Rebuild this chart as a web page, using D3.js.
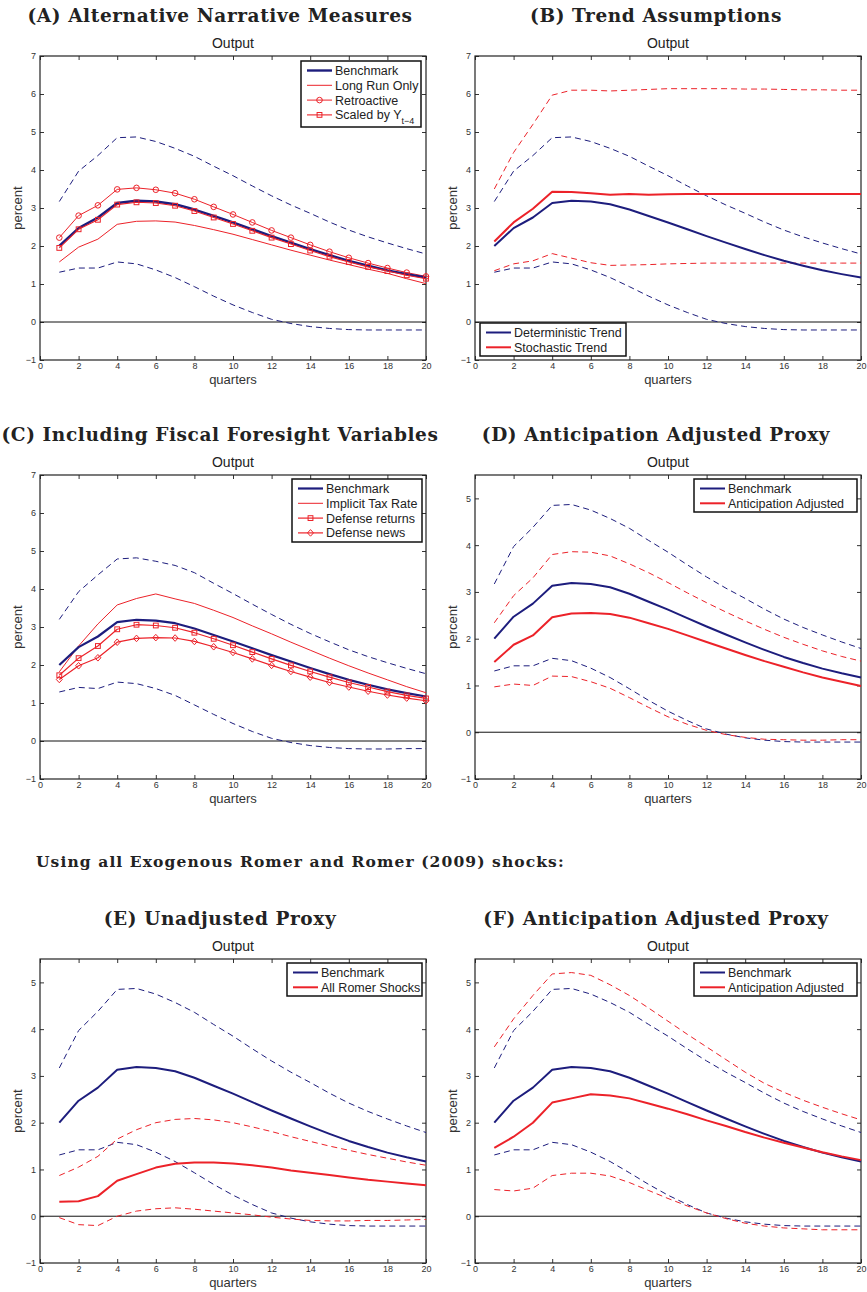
<!DOCTYPE html>
<html>
<head>
<meta charset="utf-8">
<script src="https://cdn.jsdelivr.net/npm/d3@7"></script>
<style>
  body { margin: 0; background: #fff; }
  text { font-family: "Liberation Sans", Arial, sans-serif; }
  .ptitle, .section { font-family: "DejaVu Serif", serif; font-weight: bold; fill: #222; }
</style>
</head>
<body>
<svg id="fig" width="867" height="1292"></svg>
<script>
// horizon (quarters)
const quarters = [1,2,3,4,5,6,7,8,9,10,11,12,13,14,15,16,17,18,19,20];

// benchmark response and its bands (same in every panel)
const benchmark = [2.0,2.47,2.75,3.13,3.19,3.17,3.1,2.96,2.79,2.62,2.44,2.26,2.09,1.92,1.76,1.61,1.48,1.36,1.26,1.17];
const benchUpper = [3.17,3.97,4.38,4.85,4.87,4.75,4.57,4.36,4.1,3.85,3.58,3.32,3.08,2.86,2.63,2.42,2.24,2.08,1.93,1.79];
const benchLower = [1.31,1.42,1.42,1.58,1.53,1.37,1.17,0.93,0.68,0.45,0.25,0.07,-0.04,-0.12,-0.17,-0.2,-0.21,-0.21,-0.21,-0.21];

// (A) alternative narrative measures
const longRunOnly = [1.58,1.97,2.18,2.57,2.65,2.66,2.63,2.54,2.43,2.31,2.17,2.03,1.89,1.76,1.63,1.51,1.39,1.28,1.14,1.01];
const retroactive = [2.22,2.8,3.07,3.49,3.53,3.48,3.39,3.23,3.03,2.83,2.62,2.41,2.22,2.03,1.85,1.69,1.55,1.42,1.3,1.2];
const scaledByY = [1.95,2.44,2.69,3.09,3.15,3.13,3.06,2.92,2.75,2.58,2.4,2.22,2.05,1.88,1.72,1.58,1.45,1.34,1.23,1.14];

// (B) trend assumptions
const stochTrend = [2.12,2.62,2.98,3.43,3.42,3.39,3.35,3.37,3.35,3.36,3.37,3.37,3.37,3.37,3.37,3.37,3.37,3.37,3.37,3.37];
const stochUpper = [3.5,4.46,5.2,5.97,6.1,6.1,6.08,6.1,6.12,6.14,6.14,6.14,6.14,6.13,6.13,6.12,6.11,6.11,6.1,6.1];
const stochLower = [1.35,1.53,1.61,1.8,1.68,1.56,1.49,1.5,1.51,1.53,1.54,1.55,1.55,1.55,1.55,1.55,1.55,1.55,1.55,1.55];

// (C) fiscal foresight variables
const benchUpperC = [3.2,3.93,4.37,4.79,4.82,4.73,4.62,4.43,4.15,3.88,3.6,3.33,3.07,2.83,2.61,2.4,2.22,2.06,1.91,1.77];
const benchLowerC = [1.29,1.41,1.38,1.55,1.51,1.38,1.2,0.95,0.7,0.46,0.25,0.07,-0.04,-0.12,-0.17,-0.2,-0.21,-0.21,-0.2,-0.2];
const implicitTax = [1.82,2.5,3.08,3.58,3.75,3.87,3.74,3.62,3.44,3.25,3.03,2.82,2.6,2.39,2.18,1.98,1.79,1.61,1.43,1.27];
const defReturns = [1.73,2.18,2.5,2.94,3.06,3.04,2.98,2.85,2.69,2.52,2.34,2.16,1.99,1.83,1.68,1.54,1.42,1.3,1.2,1.12];
const defNews = [1.62,1.98,2.19,2.6,2.7,2.72,2.71,2.62,2.48,2.33,2.16,1.99,1.83,1.68,1.54,1.42,1.31,1.21,1.13,1.06];

// (D) anticipation adjusted proxy
const anticAdj = [1.5,1.87,2.07,2.46,2.54,2.55,2.53,2.45,2.33,2.21,2.07,1.93,1.79,1.65,1.52,1.4,1.28,1.17,1.08,0.99];
const anticUpper = [2.34,2.92,3.3,3.8,3.86,3.85,3.77,3.6,3.41,3.2,2.98,2.77,2.57,2.38,2.2,2.03,1.88,1.74,1.62,1.52];
const anticLower = [0.97,1.03,1.0,1.2,1.19,1.08,0.94,0.74,0.53,0.33,0.17,0.04,-0.05,-0.11,-0.15,-0.16,-0.17,-0.17,-0.16,-0.16];

// (E) all Romer shocks, unadjusted
const allRomer = [0.31,0.32,0.43,0.76,0.9,1.04,1.12,1.15,1.15,1.13,1.09,1.04,0.98,0.93,0.88,0.83,0.78,0.74,0.7,0.66];
const allRomerUpper = [0.87,1.05,1.28,1.65,1.85,2.0,2.07,2.09,2.06,2.0,1.91,1.81,1.7,1.6,1.5,1.41,1.32,1.24,1.16,1.09];
const allRomerLower = [-0.03,-0.18,-0.2,0.0,0.11,0.16,0.18,0.15,0.11,0.07,0.03,-0.02,-0.06,-0.09,-0.1,-0.1,-0.09,-0.09,-0.08,-0.07];

// (F) all Romer shocks, anticipation adjusted
const allAdj = [1.46,1.7,2.0,2.43,2.52,2.61,2.58,2.52,2.41,2.3,2.18,2.05,1.93,1.8,1.68,1.57,1.47,1.37,1.28,1.2];
const allAdjUpper = [3.62,4.22,4.72,5.18,5.21,5.15,4.95,4.72,4.45,4.17,3.89,3.62,3.35,3.08,2.84,2.65,2.48,2.33,2.19,2.06];
const allAdjLower = [0.57,0.54,0.6,0.87,0.92,0.92,0.86,0.72,0.55,0.38,0.22,0.07,-0.05,-0.15,-0.21,-0.25,-0.27,-0.29,-0.29,-0.29];

const xTicks = [0,2,4,6,8,10,12,14,16,18,20];
const yTicksTall = [-1,0,1,2,3,4,5,6,7];
const yTicksShort = [-1,0,1,2,3,4,5];

const BLUE = "#1d1d7d", RED = "#ec2229";

const svg = d3.select("#fig");

svg.append("text").attr("class", "section")
  .attr("x", 36).attr("y", 867).attr("font-size", 15.5).attr("letter-spacing", 1.1)
  .text("Using all Exogenous Romer and Romer (2009) shocks:");

function drawPanel(p) {
  const x = d3.scaleLinear().domain([0, 20]).range([p.left, p.left + 386]);
  const y = d3.scaleLinear().domain(p.ydom).range([p.top + 304, p.top]);
  const g = svg.append("g");

  g.append("text").attr("class", "ptitle")
    .attr("x", p.tx).attr("y", p.top - 34).attr("text-anchor", "middle")
    .attr("font-size", 18.5).attr("letter-spacing", 0.6).text(p.title);
  g.append("text").attr("x", p.left + 193).attr("y", p.top - 8)
    .attr("text-anchor", "middle").attr("font-size", 14).attr("fill", "#222").text("Output");

  // axes, MATLAB style: ticks inside on all sides
  const fmt = d3.format("d");
  const ax = g.append("g").attr("transform", `translate(0,${p.top + 304})`)
    .call(d3.axisBottom(x).tickValues(xTicks).tickSizeInner(-4).tickSizeOuter(0).tickPadding(3).tickFormat(fmt));
  const axT = g.append("g").attr("transform", `translate(0,${p.top})`)
    .call(d3.axisTop(x).tickValues(xTicks).tickSizeInner(-4).tickSizeOuter(0).tickFormat(""));
  const ay = g.append("g").attr("transform", `translate(${p.left},0)`)
    .call(d3.axisLeft(y).tickValues(p.yticks).tickSizeInner(-4).tickSizeOuter(0).tickPadding(4).tickFormat(fmt));
  const ayR = g.append("g").attr("transform", `translate(${p.left + 386},0)`)
    .call(d3.axisRight(y).tickValues(p.yticks).tickSizeInner(-4).tickSizeOuter(0).tickFormat(""));
  [ax, axT, ay, ayR].forEach(a => {
    a.select(".domain").remove();
    a.selectAll("line").attr("stroke", "#333");
    a.selectAll("text").attr("font-size", 9).attr("fill", "#333")
      .attr("font-family", "Liberation Sans, Arial, sans-serif");
  });
  g.append("rect").attr("x", p.left).attr("y", p.top).attr("width", 386).attr("height", 304)
    .attr("fill", "none").attr("stroke", "#222").attr("stroke-width", 1.2);

  g.append("line").attr("x1", p.left).attr("x2", p.left + 386)
    .attr("y1", y(0)).attr("y2", y(0)).attr("stroke", "#111").attr("stroke-width", 1);

  g.append("text").attr("x", p.left + 193).attr("y", p.top + 328)
    .attr("text-anchor", "middle").attr("font-size", 13).attr("fill", "#333").text("quarters");
  g.append("text").attr("transform", `translate(${p.left - 18},${p.top + 152}) rotate(-90)`)
    .attr("text-anchor", "middle").attr("font-size", 13).attr("fill", "#333").text("percent");

  const line = d3.line().x((d, i) => x(quarters[i])).y(d => y(d));
  p.series.forEach(s => {
    g.append("path").attr("d", line(s.values)).attr("fill", "none")
      .attr("stroke", s.color).attr("stroke-width", s.width)
      .attr("stroke-dasharray", s.dash ? "6,4" : null)
      .attr("stroke-linejoin", "round");
    if (s.marker) {
      s.values.forEach((v, i) => drawMarker(g, s.marker, x(quarters[i]), y(v), s.color));
    }
  });

  // legend
  const L = p.legend;
  g.append("rect").attr("x", L.x).attr("y", L.y).attr("width", L.w).attr("height", L.h)
    .attr("fill", "#fff").attr("stroke", "#111").attr("stroke-width", 1.5);
  L.items.forEach((it, i) => {
    const cy = L.y + 9.5 + i * 14.8;
    g.append("line").attr("x1", L.x + 6).attr("x2", L.x + 31).attr("y1", cy).attr("y2", cy)
      .attr("stroke", it.color).attr("stroke-width", it.width);
    if (it.marker) drawMarker(g, it.marker, L.x + 18.5, cy, it.color);
    const t = g.append("text").attr("x", L.x + 34).attr("y", cy + 4.5)
      .attr("font-size", 12.5).attr("fill", "#222").text(it.label);
    if (it.sub) t.append("tspan").attr("dy", 5).attr("font-size", 9).text(it.sub);
  });
}

function drawMarker(g, type, cx, cy, color) {
  if (type === "circle") {
    g.append("circle").attr("cx", cx).attr("cy", cy).attr("r", 2.8)
      .attr("fill", "none").attr("stroke", color).attr("stroke-width", 1);
  } else if (type === "square") {
    g.append("rect").attr("x", cx - 2.4).attr("y", cy - 2.4).attr("width", 4.8).attr("height", 4.8)
      .attr("fill", "none").attr("stroke", color).attr("stroke-width", 1);
  } else if (type === "diamond") {
    g.append("path").attr("d", `M${cx},${cy - 3.3}L${cx + 3},${cy}L${cx},${cy + 3.3}L${cx - 3},${cy}Z`)
      .attr("fill", "none").attr("stroke", color).attr("stroke-width", 1);
  }
}

const bandsBench = [
  { values: benchUpper, color: BLUE, width: 1, dash: true },
  { values: benchLower, color: BLUE, width: 1, dash: true }
];

drawPanel({
  title: "(A) Alternative Narrative Measures", tx: 220,
  left: 40, top: 56, ydom: [-1, 7], yticks: yTicksTall,
  series: bandsBench.concat([
    { values: longRunOnly, color: RED, width: 1 },
    { values: retroactive, color: RED, width: 1, marker: "circle" },
    { values: benchmark, color: BLUE, width: 2.4 },
    { values: scaledByY, color: RED, width: 1.1, marker: "square" }
  ]),
  legend: { x: 301, y: 61, w: 120, h: 66, items: [
    { label: "Benchmark", color: BLUE, width: 2.4 },
    { label: "Long Run Only", color: RED, width: 1 },
    { label: "Retroactive", color: RED, width: 1, marker: "circle" },
    { label: "Scaled by Y", sub: "t\u22124", color: RED, width: 1.1, marker: "square" }
  ] }
});

drawPanel({
  title: "(B) Trend Assumptions", tx: 656,
  left: 475, top: 56, ydom: [-1, 7], yticks: yTicksTall,
  series: bandsBench.concat([
    { values: stochUpper, color: RED, width: 1, dash: true },
    { values: stochLower, color: RED, width: 1, dash: true },
    { values: benchmark, color: BLUE, width: 2 },
    { values: stochTrend, color: RED, width: 2 }
  ]),
  legend: { x: 480, y: 323, w: 146, h: 33, items: [
    { label: "Deterministic Trend", color: BLUE, width: 2 },
    { label: "Stochastic Trend", color: RED, width: 2 }
  ] }
});

drawPanel({
  title: "(C) Including Fiscal Foresight Variables", tx: 220,
  left: 40, top: 475, ydom: [-1, 7], yticks: yTicksTall,
  series: [
    { values: benchUpperC, color: BLUE, width: 1, dash: true },
    { values: benchLowerC, color: BLUE, width: 1, dash: true },
    { values: implicitTax, color: RED, width: 1 },
    { values: benchmark, color: BLUE, width: 2.2 },
    { values: defReturns, color: RED, width: 1.2, marker: "square" },
    { values: defNews, color: RED, width: 1.2, marker: "diamond" }
  ],
  legend: { x: 292, y: 479, w: 130, h: 63, items: [
    { label: "Benchmark", color: BLUE, width: 2.2 },
    { label: "Implicit Tax Rate", color: RED, width: 1 },
    { label: "Defense returns", color: RED, width: 1.2, marker: "square" },
    { label: "Defense news", color: RED, width: 1.2, marker: "diamond" }
  ] }
});

drawPanel({
  title: "(D) Anticipation Adjusted Proxy", tx: 656,
  left: 475, top: 475, ydom: [-1, 5.5], yticks: yTicksShort,
  series: bandsBench.concat([
    { values: anticUpper, color: RED, width: 1, dash: true },
    { values: anticLower, color: RED, width: 1, dash: true },
    { values: benchmark, color: BLUE, width: 2 },
    { values: anticAdj, color: RED, width: 2 }
  ]),
  legend: { x: 694, y: 479, w: 163, h: 33, items: [
    { label: "Benchmark", color: BLUE, width: 2 },
    { label: "Anticipation Adjusted", color: RED, width: 2 }
  ] }
});

drawPanel({
  title: "(E) Unadjusted Proxy", tx: 220,
  left: 40, top: 959, ydom: [-1, 5.5], yticks: yTicksShort,
  series: bandsBench.concat([
    { values: allRomerUpper, color: RED, width: 1, dash: true },
    { values: allRomerLower, color: RED, width: 1, dash: true },
    { values: benchmark, color: BLUE, width: 2 },
    { values: allRomer, color: RED, width: 2 }
  ]),
  legend: { x: 287, y: 963, w: 135, h: 33, items: [
    { label: "Benchmark", color: BLUE, width: 2 },
    { label: "All Romer Shocks", color: RED, width: 2 }
  ] }
});

drawPanel({
  title: "(F) Anticipation Adjusted Proxy", tx: 656,
  left: 475, top: 959, ydom: [-1, 5.5], yticks: yTicksShort,
  series: bandsBench.concat([
    { values: allAdjUpper, color: RED, width: 1, dash: true },
    { values: allAdjLower, color: RED, width: 1, dash: true },
    { values: benchmark, color: BLUE, width: 2 },
    { values: allAdj, color: RED, width: 2 }
  ]),
  legend: { x: 694, y: 963, w: 163, h: 33, items: [
    { label: "Benchmark", color: BLUE, width: 2 },
    { label: "Anticipation Adjusted", color: RED, width: 2 }
  ] }
});
</script>
</body>
</html>
